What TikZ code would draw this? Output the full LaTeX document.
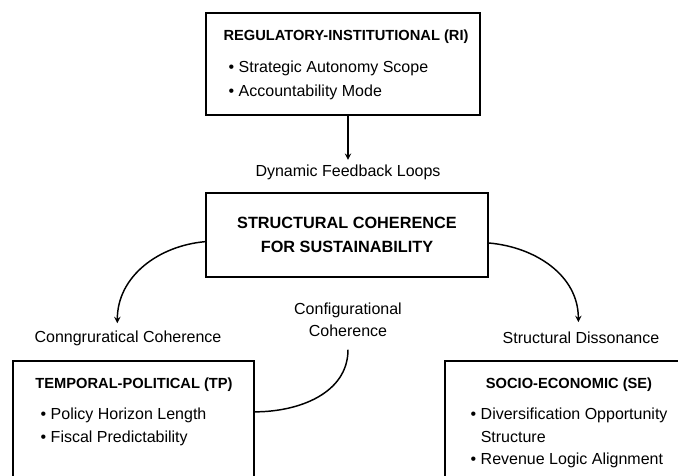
\documentclass[tikz,border=0pt]{standalone}
\usepackage{fontspec}
\setmainfont{Liberation Sans}
\usetikzlibrary{fit}

\begin{document}
\begin{tikzpicture}[x=0.75pt,y=-0.75pt,
    caja/.style={draw, line width=1.4pt, inner sep=0pt},
    titulo/.style={font=\bfseries\fontsize{11}{13}\selectfont},
    texto/.style={font=\fontsize{12}{15}\selectfont, anchor=west},
    etiqueta/.style={font=\fontsize{12}{16.5}\selectfont, align=center},
    flecha/.style={-stealth, line width=1.1pt},
    linea/.style={line width=1.1pt}]
    \useasboundingbox (0,0) rectangle (678,475);
    \clip (0,0) rectangle (678,475);

    % Caja superior
    \node[caja, fit={(206,13) (480,115)}] (ri) {};
    \node[titulo] (rit) at (346,37) {REGULATORY-INSTITUTIONAL (RI)};
    \node[texto] (ri1) at (224,68) {\textbullet\ Strategic Autonomy Scope};
    \node[texto] (ri2) at (224,92) {\textbullet\ Accountability Mode};

    % Caja central
    \node[etiqueta] (dfl) at (348,172) {Dynamic Feedback Loops};
    \node[caja, fit={(206,193) (488,277)}] (sc) {};
    \node[titulo, font=\bfseries\fontsize{12.2}{18}\selectfont, align=center] (sct) at (347,235)
        {STRUCTURAL COHERENCE\\FOR SUSTAINABILITY};
    \draw[flecha] (ri.south -| dfl.north) -- (dfl.north);

    % Etiquetas de los lazos
    \node[etiqueta] (cc) at (128,338) {Conngruratical Coherence};
    \node[etiqueta] (cfg) at (348,320) {Configurational\\Coherence};
    \node[etiqueta] (sd) at (581,338) {Structural Dissonance};
    \draw[flecha] ([yshift=-5pt]sc.west) to[out=185,in=90] ([xshift=-8pt,yshift=2pt]cc.north);
    \draw[flecha] ([yshift=-6pt]sc.east) to[out=-5,in=90] ([xshift=-2pt,yshift=4pt]sd.north);

    % Caja izquierda
    \node[caja, fit={(13,361) (254,500)}] (tp) {};
    \node[titulo] (tpt) at (134,385) {TEMPORAL-POLITICAL (TP)};
    \node[texto] (tp1) at (36,415) {\textbullet\ Policy Horizon Length};
    \node[texto] (tp2) at (36,438) {\textbullet\ Fiscal Predictability};
    \draw[linea] (cfg.south) ++(0,8) to[out=-90,in=0] ([yshift=14pt]tp.east);

    % Caja derecha
    \node[caja, fit={(445,361) (700,500)}] (se) {};
    \node[titulo] (set) at (569,385) {SOCIO-ECONOMIC (SE)};
    \node[texto] (se1) at (466,415) {\textbullet\ Diversification Opportunity};
    \node[texto] (se2) at (466,437) {\phantom{\textbullet\ }Structure};
    \node[texto] (se3) at (466,460) {\textbullet\ Revenue Logic Alignment};
\end{tikzpicture}
\end{document}
